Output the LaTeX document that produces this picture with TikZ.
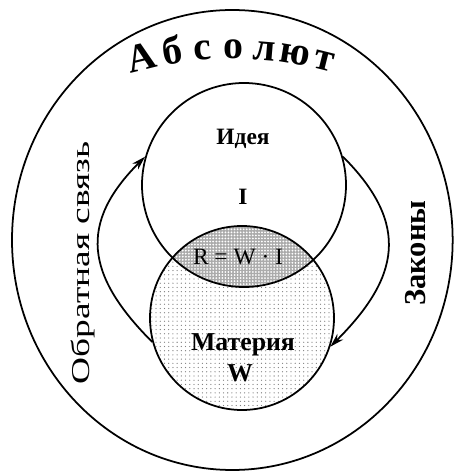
\documentclass[tikz,border=0pt]{standalone}
\usepackage{fontspec}
\setmainfont{Liberation Serif}
\usetikzlibrary{arrows.meta,patterns.meta}

\begin{document}
\begin{tikzpicture}[
  ring/.style={draw, circle, line width=1.5pt, inner sep=0pt},
  title/.style={font=\fontsize{20}{22}\selectfont\bfseries},
  side/.style={rotate=90, font=\fontsize{22}{24}\selectfont},
  flow/.style={line width=1.5pt, -{Stealth[length=12pt,width=7pt]}, looseness=1.3}
]
\useasboundingbox (0,0) rectangle (13.65,14.19);
% whole: the Absolute
\draw[line width=1.5pt] (6.97,6.99) ellipse [x radius=6.61, y radius=6.9];
\coordinate (arcc) at (6.99,1.32);
\foreach \ch [count=\i from 0] in {А,б,с,о,л,ю,т} {
  \pgfmathsetmacro\ang{103.8-4.63*\i}
  \node[anchor=base, inner sep=0pt, rotate=\ang-90, font=\fontsize{34}{36}\selectfont\bfseries]
    (abs\i) at ([shift={(\ang:11.1)}]arcc) {\ch};
}
% matter and its overlap with the idea
\fill[pattern={Dots[distance=3.6pt, radius=0.55pt]}, pattern color=black!50]
  (7.26,4.65) circle (2.76);
\begin{scope}
  \clip (7.32,8.64) circle (3.06);
  \fill[preaction={fill=black!33}, pattern={Dots[distance=2.6pt, radius=0.85pt]},
    pattern color=white] (7.26,4.65) circle (2.76);
\end{scope}
\node[ring, minimum size=6.12cm] (idea) at (7.32,8.64) {};
\node[ring, minimum size=5.52cm] (matter) at (7.26,4.65) {};
\node[title] (ideaname) at (7.29,10.02) {Идея};
\node[title] (ideasym) at (7.29,8.28) {I};
\node[font=\fontsize{20}{22}\selectfont] (rel) at (7.14,6.48) {R = W · I};
\node[title, font=\fontsize{22}{24}\selectfont\bfseries] (mattername) at (7.29,3.84) {Материя};
\node[title, font=\fontsize{22}{24}\selectfont\bfseries] (mattersym) at (7.2,3.0) {W};
% feedback and laws
\draw[flow] (matter.195) to[out=135, in=-135] (idea.164);
\draw[flow] (idea.16) to[out=-45, in=45] (matter.-18);
\node[side, xscale=1.45] (back) at (2.49,6.3) {Обратная связь};
\node[side, font=\fontsize{26}{28}\selectfont\bfseries] (laws) at (12.48,6.6) {Законы};
\end{tikzpicture}
\end{document}
